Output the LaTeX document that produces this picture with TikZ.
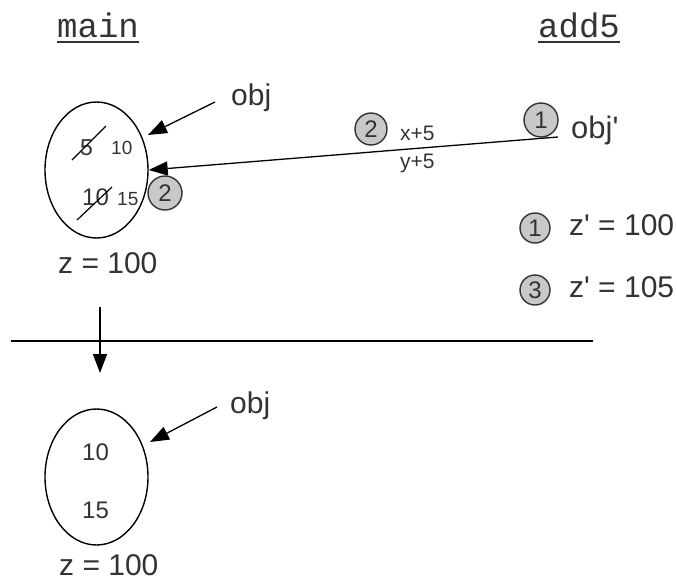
\documentclass[tikz,border=0pt]{standalone}
\usepackage{fontspec}
\setmainfont{Liberation Sans}
\setmonofont{Liberation Mono}
\newfontfamily\plainsans{Liberation Sans}
\usetikzlibrary{shapes.geometric,arrows.meta}
\definecolor{ink}{HTML}{333333}
\definecolor{cgray}{HTML}{C8C8C8}
\newcommand{\sq}{{\plainsans '}}
\begin{document}
\begin{tikzpicture}[x=1pt,y=-1pt,
  txt/.style={inner sep=0pt, text=ink, anchor=base west},
  fs/.style={font=\fontsize{#1}{#1}\selectfont},
  mono/.style={inner sep=0pt, text=ink, anchor=base west, font=\ttfamily\fontsize{34}{34}\selectfont},
  uline/.style={draw=ink, line width=2.6pt},
  blob/.style={ellipse, draw=black, line width=1.4pt, minimum width=103pt, minimum height=136pt, inner sep=0pt},
  ptr/.style={draw=black, line width=1.3pt, -{Triangle[length=19pt,width=14pt]}},
  strike/.style={draw=black, line width=1.2pt},
  cnum/.style={circle, draw=ink, fill=cgray, line width=1.4pt, minimum size=#1, inner sep=0pt, text=ink, font=\fontsize{24}{24}\selectfont},
]
\useasboundingbox (0,0) rectangle (677,584);

% headers
\node[mono] (main) at (57,37) {main};
\draw[uline] ([yshift=-5pt]main.base west) -- ([yshift=-5pt]main.base east);
\node[mono] (add) at (538,37) {add5};
\draw[uline] ([yshift=-5pt]add.base west) -- ([yshift=-5pt]add.base east);

% upper object
\node[blob] (top) at (96.5,170) {};
\node[txt,fs=23] (five) at (80,155) {5};
\node[txt,fs=19] (ten) at (111,154) {10};
\node[txt,fs=24] (tenold) at (82,205) {10};
\node[txt,fs=19] (fifteen) at (117,205) {15};
\draw[strike] (72,160) -- (106,126);
\draw[strike] (77,220) -- (112,187);
\node[cnum=34pt] (c2a) at (165,193) {2};
\node[txt,fs=30] (z1) at (58,273) {z = 100};

\node[txt,fs=30] (obj1) at (231,105) {obj};
\coordinate (obj1s) at (215,102);
\coordinate (obj1t) at (148,135);
\draw[ptr] (obj1s) -- (obj1t);

% add5 side
\node[txt,fs=31] (objp) at (571,138) {obj\sq};
\node[cnum=34pt] (c1a) at (541,120) {1};
\coordinate (objps) at (558,137);
\draw[ptr] (objps) -- (top.east);
\node[cnum=32pt] (c2b) at (371,129) {2};
\node[txt,fs=21] (xp) at (400,140) {x+5};
\node[txt,fs=21] (yp) at (400,168) {y+5};

\node[cnum=30pt] (c1b) at (535,228) {1};
\node[txt,fs=30] (zp1) at (569,235) {z\sq{} = 100};
\node[cnum=30pt] (c3) at (535,290) {3};
\node[txt,fs=30] (zp2) at (569,297) {z\sq{} = 105};

% divider and step arrow
\coordinate (dl) at (11,341);
\coordinate (dr) at (593,341);
\draw[draw=black, line width=1.8pt] (dl) -- (dr);
\coordinate (vs) at (100,307);
\coordinate (ve) at (100,373);
\draw[ptr] (vs) -- (ve);

% lower object
\node[blob] (bot) at (96.5,477) {};
\node[txt,fs=24] (lten) at (82,460) {10};
\node[txt,fs=24] (lfifteen) at (82,518) {15};
\node[txt,fs=30] (z2) at (59,575) {z = 100};
\node[txt,fs=30] (obj2) at (230,413) {obj};
\coordinate (obj2s) at (217,407);
\coordinate (obj2t) at (150,442);
\draw[ptr] (obj2s) -- (obj2t);
\end{tikzpicture}
\end{document}
